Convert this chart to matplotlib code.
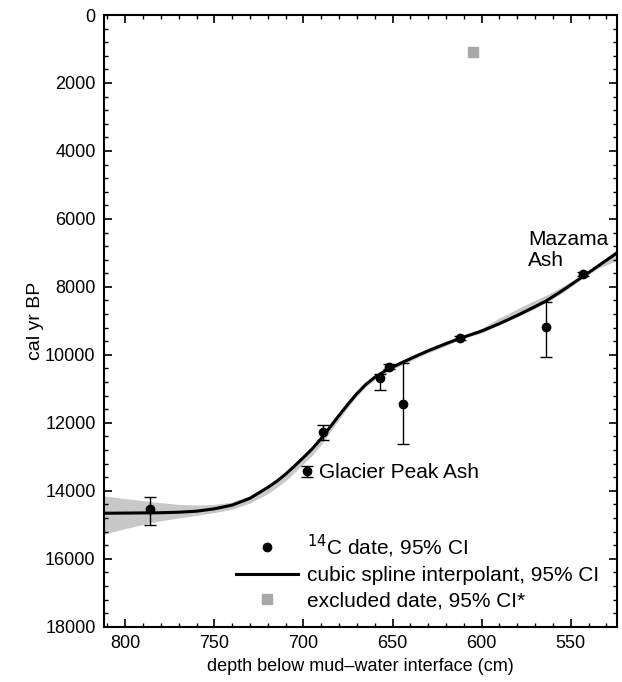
import numpy as np
import matplotlib.pyplot as plt
from matplotlib.lines import Line2D

plt.rcParams['font.family'] = ['Liberation Sans', 'DejaVu Sans']

# 14C dates (depth cm, cal yr BP, 95% CI minus / plus)
depth_pts = [786, 698, 689, 657, 652, 644, 612, 564, 543]
age_pts = [14530, 13420, 12280, 10680, 10350, 11450, 9500, 9180, 7620]
err_minus = [350, 150, 230, 130, 80, 1210, 50, 750, 60]
err_plus = [470, 180, 230, 360, 80, 1160, 50, 880, 60]

# excluded date
excl_depth = [605]
excl_age = [1100]
excl_err = [60]

# cubic spline interpolant and its 95% CI band
spline_depth = [812, 800, 790, 780, 770, 760, 750, 740, 730, 720, 715, 710, 705,
                700, 695, 690, 685, 680, 675, 670, 665, 660, 655, 650, 645, 640,
                635, 630, 620, 612, 600, 590, 580, 570, 564, 555, 545, 535, 524]
spline_age = [14660, 14655, 14650, 14645, 14630, 14600, 14530, 14420, 14220, 13900,
              13720, 13510, 13270, 13020, 12760, 12460, 12120, 11780, 11450, 11140,
              10870, 10660, 10500, 10360, 10235, 10115, 9995, 9880, 9670, 9510,
              9300, 9080, 8840, 8580, 8420, 8120, 7760, 7400, 7000]
band_lo = [14150, 14230, 14290, 14350, 14400, 14420, 14400, 14330, 14140, 13830,
           13650, 13440, 13200, 12950, 12690, 12400, 12060, 11720, 11400, 11080,
           10810, 10590, 10430, 10290, 10165, 10040, 9930, 9810, 9600, 9460,
           9220, 8910, 8650, 8390, 8250, 8000, 7700, 7320, 6900]
band_hi = [15280, 15110, 14990, 14880, 14800, 14720, 14640, 14540, 14360, 14080,
           13900, 13700, 13460, 13200, 12950, 12640, 12270, 11900, 11550, 11220,
           10940, 10730, 10570, 10430, 10305, 10180, 10060, 9940, 9730, 9550,
           9350, 9120, 8880, 8640, 8470, 8190, 7810, 7460, 7220]

fig = plt.figure(figsize=(6.22, 6.82), dpi=100)
ax = fig.add_axes([0.167, 0.081, 0.825, 0.897])

ax.fill_between(spline_depth, band_lo, band_hi, color='#c8c8c8', lw=0)
ax.plot(spline_depth, spline_age, color='black', lw=2.2)
ax.errorbar(depth_pts, age_pts, yerr=[err_minus, err_plus], fmt='o', color='black',
            ms=6, capsize=4.5, elinewidth=1, capthick=1)
ax.errorbar(excl_depth, excl_age, yerr=excl_err, fmt='s', color='#a8a8a8',
            ms=6.5, capsize=2, elinewidth=1)

ax.text(691, 13470, 'Glacier Peak Ash', fontsize=15, va='center', ha='left')
ax.text(574, 6910, 'Mazama\nAsh', fontsize=15, va='center', ha='left',
        linespacing=1.1)

ax.set_xlim(812, 524)
ax.set_ylim(18000, 0)
ax.set_xticks([800, 750, 700, 650, 600, 550])
ax.set_xticks(np.arange(530, 811, 10), minor=True)
ax.set_yticks(np.arange(0, 18001, 2000))
ax.set_yticks(np.arange(0, 18001, 400), minor=True)
ax.tick_params(which='both', direction='in', top=True, right=True, labelsize=13)
ax.tick_params(which='major', length=6, width=1.2, pad=6)
ax.tick_params(which='minor', length=3, width=1)
for s in ax.spines.values():
    s.set_linewidth(1.5)

ax.set_xlabel('depth below mud\u2013water interface (cm)', fontsize=13)
ax.set_ylabel('cal yr BP', fontsize=14, labelpad=1)

handles = [
    Line2D([], [], ls='none', marker='o', color='black', ms=6),
    Line2D([], [], color='black', lw=2.2),
    Line2D([], [], ls='none', marker='s', color='#a8a8a8', ms=6.5),
]
labels = ['$^{14}$C date, 95% CI', 'cubic spline interpolant, 95% CI',
          'excluded date, 95% CI*']
ax.legend(handles, labels, loc='lower right', bbox_to_anchor=(0.997, 0.0),
          frameon=False, fontsize=15, handlelength=3.0, handletextpad=0.4,
          labelspacing=0.3, borderaxespad=0.4)

fig.savefig('out.png', dpi=100)
